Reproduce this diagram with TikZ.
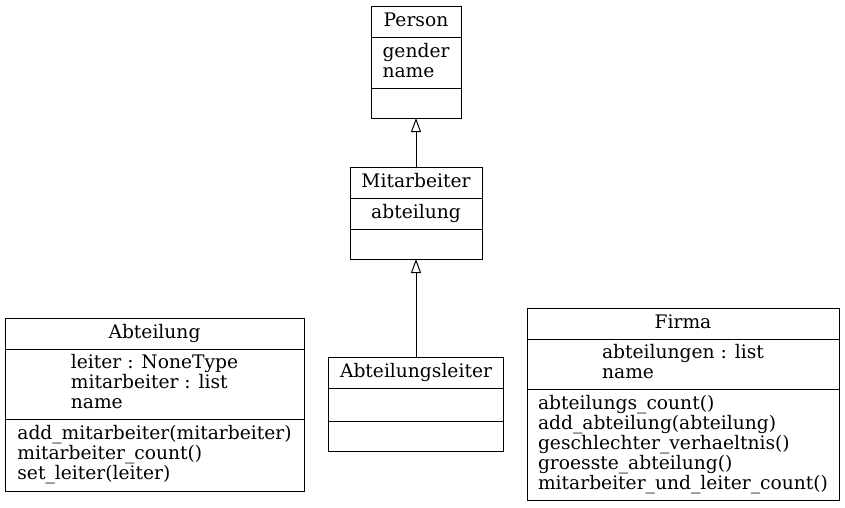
\documentclass[tikz,border=0pt]{standalone}
\usepackage{fontspec}
\setmainfont{DejaVu Serif}
\usetikzlibrary{positioning}
\usetikzlibrary{arrows.meta}
\newcommand\umlstrut{\rule[-3.5pt]{0pt}{15pt}}

\begin{document}
\begin{tikzpicture}[x=0.75pt,y=-0.75pt,
        generalization/.style={-{Triangle[open,length=10.5pt,width=7.5pt]},line width=0.75pt}]
        \useasboundingbox (0,0) rectangle (845,507);
        \begin{scope}
            \tikzstyle{every node}=[draw,rectangle,line width=0.75pt,outer sep=0pt,inner sep=0pt,align=left,
                font=\fontsize{14pt}{15pt}\selectfont,execute at begin node=\umlstrut,execute at end node=\umlstrut]

            % Person
            \node[anchor=north,minimum width=67.5pt,minimum height=23.25pt] (person) at (416,6) {Person};
            \node[below=0pt of person,minimum width=67.5pt,minimum height=38.25pt] (person_attr) {gender\\name};
            \node[below=0pt of person_attr,minimum width=67.5pt,minimum height=22.5pt] (person_ops) {};

            % Mitarbeiter
            \node[anchor=north,minimum width=99pt,minimum height=23.25pt] (mitarbeiter) at (416,167) {Mitarbeiter};
            \node[below=0pt of mitarbeiter,minimum width=99pt,minimum height=23.25pt] (mitarbeiter_attr) {abteilung};
            \node[below=0pt of mitarbeiter_attr,minimum width=99pt,minimum height=22.5pt] (mitarbeiter_ops) {};

            % Abteilungsleiter
            \node[anchor=north,minimum width=131.25pt,minimum height=23.25pt] (leiter) at (416,357) {Abteilungsleiter};
            \node[below=0pt of leiter,minimum width=131.25pt,minimum height=24.75pt] (leiter_attr) {};
            \node[below=0pt of leiter_attr,minimum width=131.25pt,minimum height=22.5pt] (leiter_ops) {};

            % Abteilung
            \node[anchor=north,minimum width=224.25pt,minimum height=23.25pt] (abteilung) at (154.5,318) {Abteilung};
            \node[below=0pt of abteilung,minimum width=224.25pt,minimum height=52.5pt] (abteilung_attr) {leiter : NoneType\\mitarbeiter : list\\name};
            \node[below=0pt of abteilung_attr,minimum width=224.25pt,minimum height=54pt] (abteilung_ops) {add\_mitarbeiter(mitarbeiter)\\mitarbeiter\_count()\\set\_leiter(leiter)};

            % Firma
            \node[anchor=north,minimum width=234pt,minimum height=23.25pt] (firma) at (683,308) {Firma};
            \node[below=0pt of firma,minimum width=234pt,minimum height=37.5pt] (firma_attr) {abteilungen : list\\name};
            \node[below=0pt of firma_attr,minimum width=234pt,minimum height=83.25pt] (firma_ops) {abteilungs\_count()\\add\_abteilung(abteilung)\\geschlechter\_verhaeltnis()\\groesste\_abteilung()\\mitarbeiter\_und\_leiter\_count()};
        \end{scope}

        \draw[generalization] (mitarbeiter.north) -- (person_ops.south);
        \draw[generalization] (leiter.north) -- (mitarbeiter_ops.south);
    \end{tikzpicture}
\end{document}
